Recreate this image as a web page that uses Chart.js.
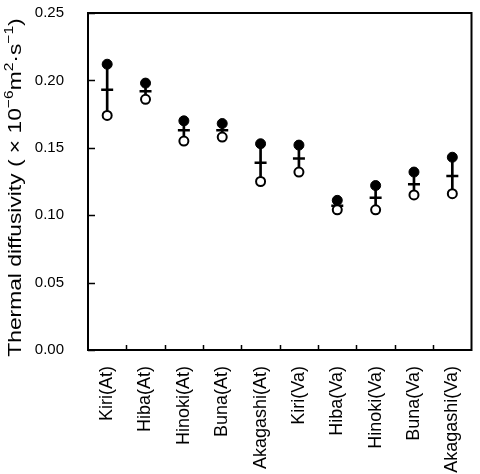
<!DOCTYPE html>
<html>
<head>
<meta charset="utf-8">
<script src="https://cdn.jsdelivr.net/npm/chart.js@4"></script>
<style>
  html, body { margin: 0; padding: 0; background: #fff; }
  #wrap { width: 480px; height: 474px; }
</style>
</head>
<body>
<div id="wrap"><canvas id="chart" width="480" height="474"></canvas></div>
<script>
// wood species and direction
var labels = ['Kiri(At)', 'Hiba(At)', 'Hinoki(At)', 'Buna(At)', 'Akagashi(At)',
              'Kiri(Va)', 'Hiba(Va)', 'Hinoki(Va)', 'Buna(Va)', 'Akagashi(Va)'];

// valores
var maxValues  = [0.212, 0.198, 0.170, 0.168, 0.153, 0.152, 0.111, 0.122, 0.132, 0.143];
var meanValues = [0.193, 0.192, 0.163, 0.163, 0.139, 0.142, 0.107, 0.113, 0.123, 0.129];
var minValues  = [0.174, 0.186, 0.155, 0.158, 0.125, 0.132, 0.104, 0.104, 0.115, 0.116];

var yTicks = [0, 0.05, 0.10, 0.15, 0.20, 0.25];

// titulo do eixo y em pedaços (texto, sobrescrito?)
var yTitle = [
    ['Thermal diffusivity', false],
    [' ( ', false],
    ['×', false],
    [' 10', false],
    ['−6', true],
    ['m', false],
    ['2', true],
    ['·', false],
    ['s', false],
    ['−1', true],
    [')', false]
];

var fonte = 'Liberation Sans, Arial, sans-serif';

// ticks para dentro + moldura
var innerTicks = {
    id: 'innerTicks',
    afterDraw: function (chart) {
        var ctx = chart.ctx;
        var a = chart.chartArea;
        var x = chart.scales.x;
        var y = chart.scales.y;
        ctx.save();
        ctx.strokeStyle = '#000';
        ctx.lineWidth = 1.5;
        ctx.beginPath();
        y.ticks.forEach(function (t) {
            var py = Math.round(y.getPixelForValue(t.value)) + 0.5;
            ctx.moveTo(a.left, py);
            ctx.lineTo(a.left + 7, py);
        });
        for (var i = 1; i < labels.length; i++) {
            var px = Math.round((x.getPixelForValue(i - 1) + x.getPixelForValue(i)) / 2) + 0.5;
            ctx.moveTo(px, a.bottom);
            ctx.lineTo(px, a.bottom - 5);
        }
        ctx.stroke();
        ctx.lineWidth = 2;
        ctx.strokeRect(a.left, a.top, a.right - a.left, a.bottom - a.top);
        ctx.restore();
    }
};

// titulo do eixo y com sobrescritos
var titleY = {
    id: 'titleY',
    afterDraw: function (chart) {
        var ctx = chart.ctx;
        var a = chart.chartArea;
        var big = 19, small = 13;
        ctx.save();
        ctx.fillStyle = '#000';
        ctx.textBaseline = 'alphabetic';
        var total = 0;
        yTitle.forEach(function (p) {
            ctx.font = (p[1] ? small : big) + 'px ' + fonte;
            total += ctx.measureText(p[0]).width;
        });
        ctx.translate(21, (a.top + a.bottom) / 2 + 6);
        ctx.rotate(-Math.PI / 2);
        ctx.scale(1.2, 1);
        var pos = -total / 2;
        yTitle.forEach(function (p) {
            ctx.font = (p[1] ? small : big) + 'px ' + fonte;
            ctx.fillText(p[0], pos, p[1] ? -8 : 0);
            pos += ctx.measureText(p[0]).width;
        });
        ctx.restore();
    }
};

new Chart(document.getElementById('chart'), {
    type: 'line',
    data: {
        labels: labels,
        datasets: [
            {
                type: 'bar',
                label: 'range',
                data: minValues.map(function (v, i) { return [v, maxValues[i]]; }),
                backgroundColor: '#000',
                barThickness: 2,
                order: 5
            },
            {
                label: 'mean',
                data: meanValues,
                showLine: false,
                pointStyle: 'line',
                pointRadius: 6,
                borderWidth: 2.5,
                borderColor: '#000',
                order: 3
            },
            {
                label: 'max',
                data: maxValues,
                showLine: false,
                pointStyle: 'circle',
                pointRadius: 5,
                backgroundColor: '#000',
                borderColor: '#000',
                borderWidth: 1,
                order: 2
            },
            {
                label: 'min',
                data: minValues,
                showLine: false,
                pointStyle: 'circle',
                pointRadius: 4.5,
                backgroundColor: '#fff',
                borderColor: '#000',
                borderWidth: 2,
                order: 1
            }
        ]
    },
    options: {
        responsive: false,
        animation: false,
        layout: { padding: { top: 13, right: 7, left: 0, bottom: 0 } },
        plugins: {
            legend: { display: false },
            tooltip: { enabled: false }
        },
        scales: {
            x: {
                offset: true,
                grid: { display: false, offset: true },
                border: { display: false },
                ticks: {
                    color: '#000',
                    font: { family: fonte, size: 18 },
                    minRotation: 90,
                    maxRotation: 90,
                    padding: 8,
                    autoSkip: false
                },
                afterFit: function (s) {
                    s.height = 124;
                    s.paddingLeft = 0;
                    s.paddingRight = 0;
                }
            },
            y: {
                min: 0,
                max: 0.25,
                afterBuildTicks: function (s) {
                    s.ticks = yTicks.map(function (v) { return { value: v }; });
                },
                grid: { display: false },
                border: { display: false },
                ticks: {
                    color: '#000',
                    font: { family: fonte, size: 15 },
                    padding: 16,
                    callback: function (v) { return Number(v).toFixed(2); }
                },
                afterFit: function (s) {
                    s.width = 88;
                    s.paddingTop = 0;
                    s.paddingBottom = 0;
                }
            }
        }
    },
    plugins: [innerTicks, titleY]
});
</script>
</body>
</html>
